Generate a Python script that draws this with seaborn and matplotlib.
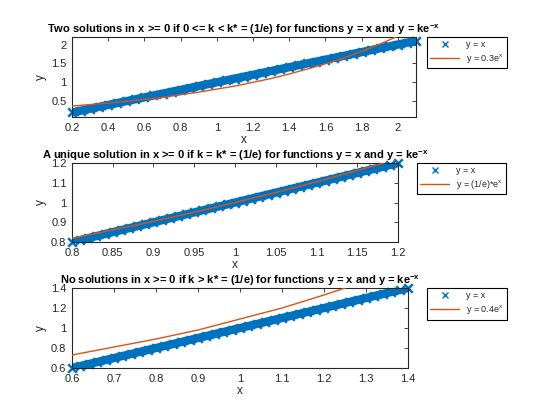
import matplotlib
matplotlib.use("Agg")
import matplotlib.pyplot as plt
from matplotlib.lines import Line2D
import seaborn as sns

# y = x sample points (markers) for each panel
line1_x = [0.2, 0.25, 0.3, 0.35, 0.4, 0.45, 0.5, 0.55, 0.6, 0.65, 0.7, 0.75, 0.8,
           0.85, 0.9, 0.95, 1.0, 1.05, 1.1, 1.15, 1.2, 1.25, 1.3, 1.35, 1.4, 1.45,
           1.5, 1.55, 1.6, 1.65, 1.7, 1.75, 1.8, 1.85, 1.9, 1.95, 2.0, 2.05, 2.1]
line2_x = [0.8, 0.81, 0.82, 0.83, 0.84, 0.85, 0.86, 0.87, 0.88, 0.89, 0.9, 0.91,
           0.92, 0.93, 0.94, 0.95, 0.96, 0.97, 0.98, 0.99, 1.0, 1.01, 1.02, 1.03,
           1.04, 1.05, 1.06, 1.07, 1.08, 1.09, 1.1, 1.11, 1.12, 1.13, 1.14, 1.15,
           1.16, 1.17, 1.18, 1.19, 1.2]
line3_x = [0.6, 0.62, 0.64, 0.66, 0.68, 0.7, 0.72, 0.74, 0.76, 0.78, 0.8, 0.82,
           0.84, 0.86, 0.88, 0.9, 0.92, 0.94, 0.96, 0.98, 1.0, 1.02, 1.04, 1.06,
           1.08, 1.1, 1.12, 1.14, 1.16, 1.18, 1.2, 1.22, 1.24, 1.26, 1.28, 1.3,
           1.32, 1.34, 1.36, 1.38, 1.4]

# k*e^x curves
curve1_x = [0.2, 0.3, 0.4, 0.5, 0.6, 0.7, 0.8, 0.9, 1.0, 1.1, 1.2, 1.3, 1.4, 1.5,
            1.6, 1.7, 1.8, 1.9, 2.0, 2.1]
curve1_y = [0.37, 0.41, 0.45, 0.50, 0.55, 0.60, 0.67, 0.74, 0.82, 0.90, 1.00, 1.10,
            1.22, 1.35, 1.49, 1.64, 1.82, 2.01, 2.22, 2.45]
curve2_x = [0.8, 0.85, 0.9, 0.95, 1.0, 1.05, 1.1, 1.15, 1.2]
curve2_y = [0.819, 0.861, 0.905, 0.951, 1.0, 1.051, 1.105, 1.162, 1.221]
curve3_x = [0.6, 0.7, 0.8, 0.9, 1.0, 1.1, 1.2, 1.3, 1.4]
curve3_y = [0.73, 0.81, 0.89, 0.98, 1.09, 1.20, 1.33, 1.47, 1.62]

titles = [r"Two solutions in x >= 0 if 0 <= k < k* = (1/e) for functions y = x and y = ke$^{\mathbf{-x}}$",
          r"A unique solution in x >= 0 if k = k* = (1/e) for functions y = x and y = ke$^{\mathbf{-x}}$",
          r"No solutions in x >= 0 if k > k* = (1/e) for functions y = x and y = ke$^{\mathbf{-x}}$"]
curve_labels = [r"y = 0.3e$^{\mathrm{x}}$", r"y = (1/e)*e$^{\mathrm{x}}$", r"y = 0.4e$^{\mathrm{x}}$"]

xticks = [[0.2, 0.4, 0.6, 0.8, 1, 1.2, 1.4, 1.6, 1.8, 2],
          [0.8, 0.85, 0.9, 0.95, 1, 1.05, 1.1, 1.15, 1.2],
          [0.6, 0.7, 0.8, 0.9, 1, 1.1, 1.2, 1.3, 1.4]]
yticks = [[0.5, 1, 1.5, 2], [0.8, 0.9, 1, 1.1, 1.2], [0.6, 0.8, 1, 1.2, 1.4]]
xlims = [(0.2, 2.1), (0.8, 1.2), (0.6, 1.4)]
ylims = [(0.08, 2.2), (0.8, 1.2), (0.6, 1.4)]

sns.set_style("white")
plt.rcParams['font.family'] = ['Liberation Sans', 'DejaVu Sans']
plt.rcParams['mathtext.fontset'] = 'custom'
plt.rcParams['mathtext.rm'] = 'Liberation Sans'
plt.rcParams['mathtext.bf'] = 'Liberation Sans:bold'
plt.rcParams['mathtext.it'] = 'Liberation Sans:italic'
plt.rcParams['xtick.direction'] = 'in'
plt.rcParams['ytick.direction'] = 'in'

dark = '#262626'
blue = '#0072BD'
orange = '#D95319'

fig = plt.figure(figsize=(5.6, 4.2), dpi=100)
positions = [[0.1286, 0.7214, 0.614, 0.1905],
             [0.1286, 0.4238, 0.582, 0.188],
             [0.1286, 0.1238, 0.600, 0.1905]]
legend_pos = [(0.7625, 0.912), (0.7446, 0.612), (0.7625, 0.314)]

lines = [line1_x, line2_x, line3_x]
curves = [(curve1_x, curve1_y), (curve2_x, curve2_y), (curve3_x, curve3_y)]

for i in range(3):
    ax = fig.add_axes(positions[i])
    # the markers are packed so tightly they read as a solid band
    sns.lineplot(x=lines[i], y=lines[i], ax=ax, color=blue, linewidth=6,
                 sort=False, zorder=2)
    sns.scatterplot(x=lines[i], y=lines[i], ax=ax, marker='x', s=38,
                    linewidth=1.8, color=blue, clip_on=False, zorder=2)
    sns.lineplot(x=curves[i][0], y=curves[i][1], ax=ax, color=orange,
                 linewidth=1, sort=False, zorder=3)
    ax.set_xlim(xlims[i])
    ax.set_ylim(ylims[i])
    ax.set_xticks(xticks[i])
    ax.set_xticklabels([('%g' % t) for t in xticks[i]])
    ax.set_yticks(yticks[i])
    ax.set_yticklabels([('%g' % t) for t in yticks[i]])
    ax.tick_params(labelsize=8, colors=dark, length=3, width=0.6,
                   top=True, right=True)
    ax.tick_params(axis='x', pad=4)
    ax.tick_params(axis='y', pad=4)
    for sp in ax.spines.values():
        sp.set_color(dark)
        sp.set_linewidth(0.8)
        sp.set_visible(True)
    ax.set_xlabel('x', fontsize=8.5, color=dark, labelpad=1)
    ax.set_ylabel('y', fontsize=8.5, color=dark, labelpad=3)
    ax.set_title(titles[i], fontsize=8, fontweight='bold', color='black', pad=3)
    handles = [Line2D([], [], marker='x', linestyle='none', color=blue,
                      markersize=5, markeredgewidth=1),
               Line2D([], [], color=orange, linewidth=1)]
    leg = ax.legend(handles, ['y = x', curve_labels[i]], loc='upper left',
                    bbox_to_anchor=legend_pos[i], bbox_transform=fig.transFigure,
                    fontsize=6.5, frameon=True, fancybox=False, edgecolor='black',
                    framealpha=1, borderpad=0.35, handlelength=3.2,
                    labelspacing=0.35, borderaxespad=0, handletextpad=0.8)
    leg.get_frame().set_linewidth(0.8)

fig.savefig('out.png', dpi=100)
